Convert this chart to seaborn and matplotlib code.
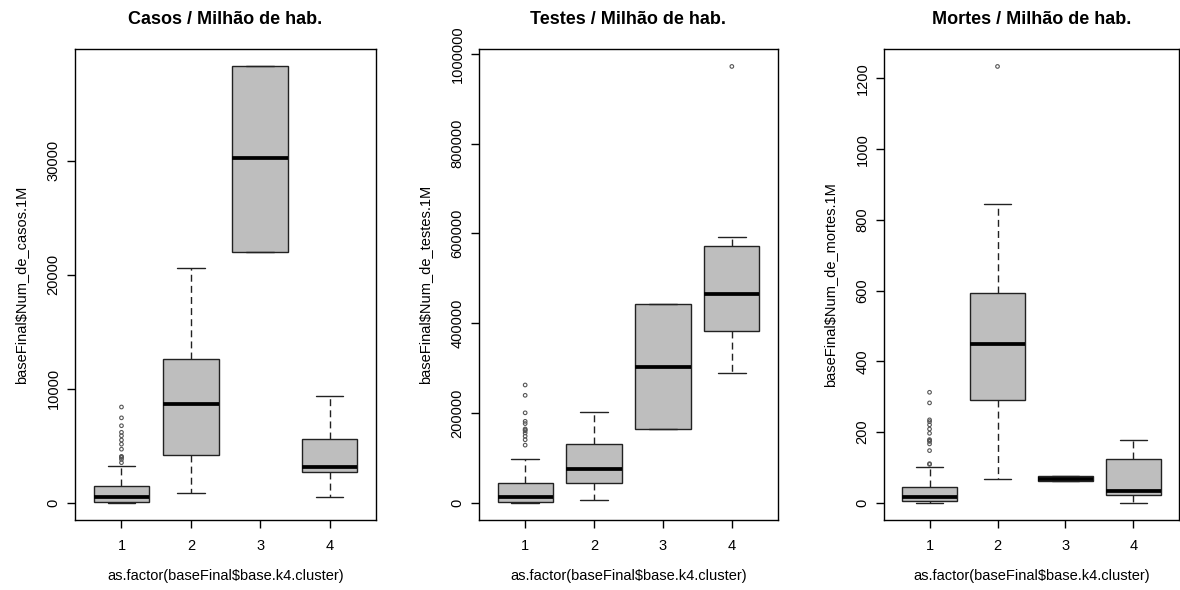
import numpy as np
import pandas as pd
import matplotlib
matplotlib.use("Agg")
import matplotlib.pyplot as plt
import seaborn as sns

# cluster labels (x axis)
clusters = ["1", "2", "3", "4"]

# five-number summaries: whisker low, Q1, median, Q3, whisker high
casos_stats = [
    [0, 90, 480, 1420, 3200],
    [800, 4200, 8650, 12600, 20600],
    [22000, 22000, 30200, 38250, 38250],
    [530, 2650, 3100, 5600, 9350],
]
casos_outliers = {
    "1": [8380, 7430, 6740, 6160, 5860, 5480, 5120, 4680, 4050, 4000, 3950, 3790, 3500],
}
casos_ticks = [0, 10000, 20000, 30000]

testes_stats = [
    [0, 2200, 12000, 44500, 97500],
    [5500, 44500, 74500, 131000, 202000],
    [164000, 164000, 303000, 443000, 443000],
    [288000, 383000, 464000, 571000, 592000],
]
testes_outliers = {
    "1": [262000, 239000, 200000, 181000, 176000, 164000, 162000, 160000,
          155000, 148000, 140000, 128000],
    "4": [972000],
}
testes_ticks = [0, 200000, 400000, 600000, 800000, 1000000]

mortes_stats = [
    [0, 3, 15, 44, 102],
    [67, 291, 449, 592, 845],
    [60, 60, 67, 75, 75],
    [0, 22, 33, 124, 177],
]
mortes_outliers = {
    "1": [312, 282, 234, 229, 220, 208, 196, 178, 176, 173, 166, 147, 110, 108],
    "2": [1234],
}
mortes_ticks = [0, 200, 400, 600, 800, 1000, 1200]

titles = ["Casos / Milhão de hab.", "Testes / Milhão de hab.", "Mortes / Milhão de hab."]
ylabels = ["baseFinal$Num_de_casos.1M", "baseFinal$Num_de_testes.1M",
           "baseFinal$Num_de_mortes.1M"]
xlabel = "as.factor(baseFinal$base.k4.cluster)"

sns.set_style("white")
plt.rcParams["font.family"] = ["Liberation Sans", "DejaVu Sans"]
plt.rcParams["text.color"] = "black"
plt.rcParams["axes.labelcolor"] = "black"
plt.rcParams["xtick.color"] = "black"
plt.rcParams["ytick.color"] = "black"

fig = plt.figure(figsize=(11.8, 5.9), dpi=100)

# axes rectangles in pixels: left, right (top 49, bottom 520)
panel_px = [(75, 376), (479, 778), (884, 1179)]
top_px, bot_px = 49, 520

panels = [
    (casos_stats, casos_outliers, casos_ticks),
    (testes_stats, testes_outliers, testes_ticks),
    (mortes_stats, mortes_outliers, mortes_ticks),
]

for i, (stats, outl, ticks) in enumerate(panels):
    l, r = panel_px[i]
    ax = fig.add_axes([l / 1180, (590 - bot_px) / 590, (r - l) / 1180,
                       (bot_px - top_px) / 590])

    df = pd.DataFrame({
        "cluster": np.repeat(clusters, 5),
        "valor": np.concatenate(stats).astype(float),
    })
    sns.boxplot(data=df, x="cluster", y="valor", order=clusters, ax=ax,
                color="#BEBEBE", saturation=1, width=0.8, linecolor="#222222",
                linewidth=1.0, showfliers=False,
                whiskerprops=dict(linestyle=(0, (5, 3)), linewidth=1.0),
                capprops=dict(linewidth=1.0),
                medianprops=dict(linewidth=2.7, color="black"))

    out_df = pd.DataFrame({
        "cluster": [c for c, v in outl.items() for _ in v],
        "valor": [x for v in outl.values() for x in v],
    })
    sns.stripplot(data=out_df, x="cluster", y="valor", order=clusters, ax=ax,
                  jitter=False, marker="o", size=2.6, facecolor="none",
                  edgecolor="#555555", linewidth=0.8, zorder=5)

    all_vals = np.concatenate([np.concatenate(stats), out_df["valor"].to_numpy()])
    lo, hi = all_vals.min(), all_vals.max()
    pad = 0.04 * (hi - lo)
    ax.set_ylim(lo - pad, hi + pad)
    ax.set_xlim(-0.67, 3.67)

    ax.set_yticks(ticks)
    ax.set_yticklabels([str(t) for t in ticks], rotation=90, va="center",
                       fontsize=10.5, color="black")
    ax.set_xticks(range(len(clusters)))
    ax.set_xticklabels(clusters, fontsize=10.5, color="black")
    ax.tick_params(axis="both", direction="out", length=5.5, width=1.0,
                   color="black", left=True, bottom=True)
    ax.tick_params(axis="y", pad=5)
    ax.tick_params(axis="x", pad=8)

    for s in ax.spines.values():
        s.set_visible(True)
        s.set_color("black")
        s.set_linewidth(1.0)

    ax.set_xlabel(xlabel, fontsize=10.5, labelpad=12, color="black")
    ax.set_ylabel(ylabels[i], fontsize=10.5, labelpad=13, color="black")
    ax.set_title(titles[i], fontsize=13, fontweight="bold", pad=18, color="black")

fig.savefig("out.png", dpi=100)
